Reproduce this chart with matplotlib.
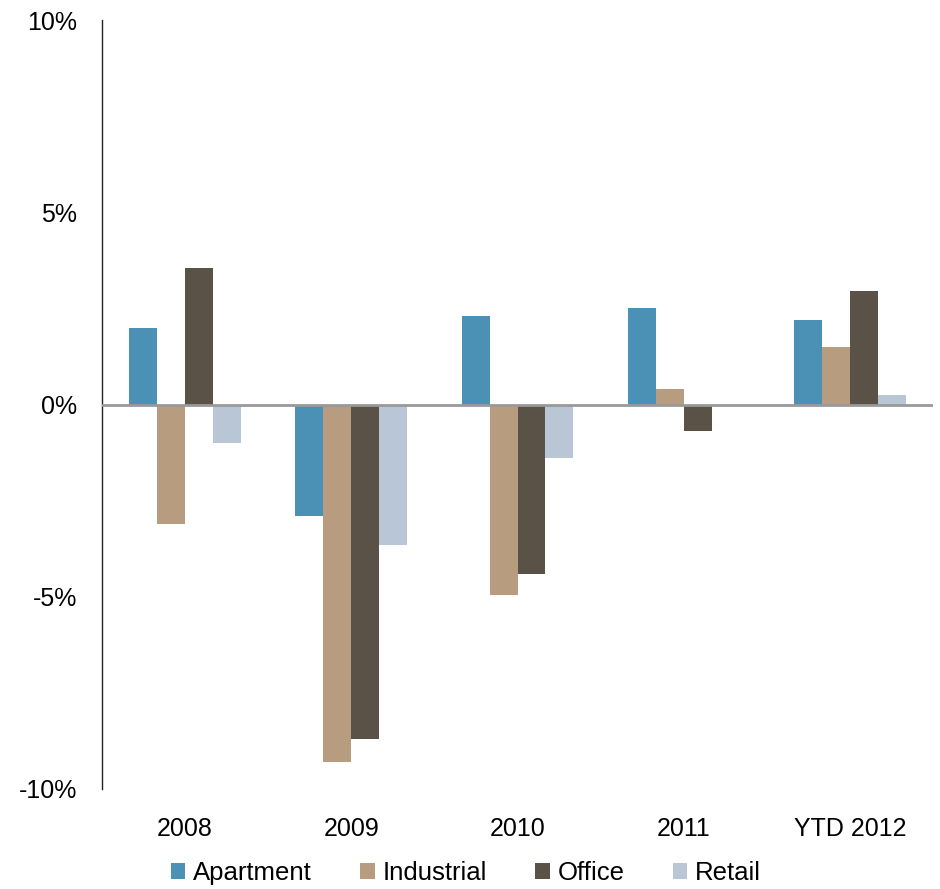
import numpy as np
import matplotlib.pyplot as plt
from matplotlib.ticker import FuncFormatter

plt.rcParams['font.family'] = ['Liberation Sans', 'DejaVu Sans']

categories = ["2008", "2009", "2010", "2011", "YTD 2012"]
series = ["Apartment", "Industrial", "Office", "Retail"]
apartment = [2.0, -2.9, 2.3, 2.5, 2.2]
industrial = [-3.1, -9.3, -4.95, 0.4, 1.5]
office = [3.55, -8.7, -4.4, -0.7, 2.95]
retail = [-1.0, -3.65, -1.4, 0.0, 0.25]
colors = ["#4A91B5", "#B89C80", "#5A5147", "#B9C6D6"]

values = [apartment, industrial, office, retail]

fig = plt.figure(figsize=(9.4, 8.89), dpi=100)
ax = fig.add_axes([102 / 940, 1 - 789 / 889, 831 / 940, 769 / 889])

x = np.arange(len(categories))
w = 0.168
for i, (name, vals, c) in enumerate(zip(series, values, colors)):
    ax.bar(x + (i - 1.5) * w, vals, width=w, color=c, label=name, zorder=2)

ax.axhline(0, color="#999999", lw=2, zorder=3)

ax.set_xlim(-0.5, 4.5)
ax.set_ylim(-10, 10)
ax.set_yticks([-10, -5, 0, 5, 10])
ax.yaxis.set_major_formatter(FuncFormatter(lambda v, p: f"{v:.0f}%"))
ax.set_xticks(x)
ax.set_xticklabels(categories)
ax.tick_params(axis="both", length=0, labelsize=18, colors="black")
ax.tick_params(axis="y", pad=18)
ax.tick_params(axis="x", pad=20)

for s in ["top", "right", "bottom"]:
    ax.spines[s].set_visible(False)
ax.spines["left"].set_color("#222222")
ax.spines["left"].set_linewidth(1)

ax.legend(loc="center", bbox_to_anchor=(466 / 940, 1 - 873 / 889),
          bbox_transform=fig.transFigure, ncol=4, frameon=False,
          fontsize=18.5, handlelength=0.55, handleheight=0.55,
          handletextpad=0.3, columnspacing=1.9, borderpad=0)

fig.savefig("out.png", dpi=100)
